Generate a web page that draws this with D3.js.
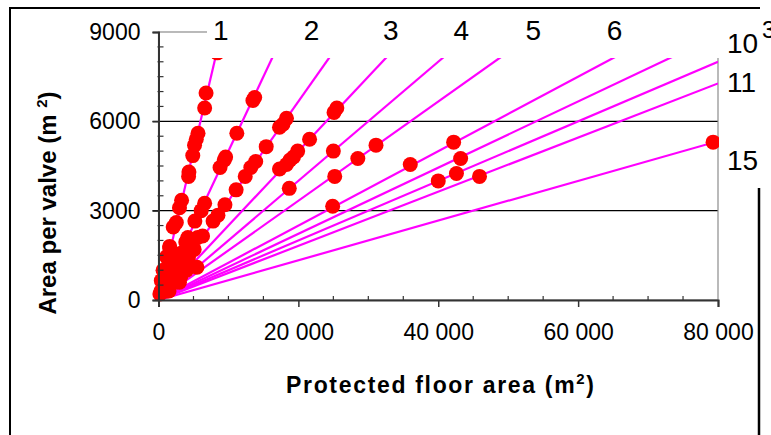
<!DOCTYPE html>
<html>
<head>
<meta charset="utf-8">
<script src="https://cdn.jsdelivr.net/npm/d3@7"></script>
<style>
  html, body { margin: 0; padding: 0; background: #fff; }
  svg { display: block; font-family: "Liberation Sans", Arial, sans-serif; }
</style>
</head>
<body>
<svg id="chart" width="771" height="435"></svg>
<script>
// ---------- data ----------
// guide lines: area per valve = floor area / n
const lineDivisors = [1, 2, 3, 4, 5, 6, 8, 9, 10, 11, 15];
// top labels and the floor area (m2) under which each is written
const topLabels = ["1", "2", "3", "4", "5", "6"];
const topLabelX = [8900, 21900, 33200, 43300, 53600, 65200];
// right labels and the area per valve (m2) beside which each is written
const rightLabels = ["10", "11", "15"];
const rightLabelY = [8620, 7310, 4690];
// measured buildings: protected floor area (m2)
const floorArea = [
  8400, 6800, 6600, 5650, 5400, 5150, 4900, 4350, 4300, 3300, 3000, 2550, 2100, 1600, 1150, 650, 400, 350, 200,
  900, 1400, 1600,
  13500, 13750, 11200, 9600, 9400, 8800, 6600, 6100, 5200, 4200, 3900, 3500, 2700, 2000, 1200, 600, 1000, 1400, 1800, 2200, 3100, 5600, 4700,
  18300, 17800, 17300, 15400, 13900, 13200, 12400, 11100, 9500, 8500, 7800, 6300, 4300, 3000, 2300, 900, 1500, 2100, 2700, 3300, 3900, 5100,
  25500, 25100, 21600, 19900, 19300, 18800, 18300, 17300, 4400, 1200, 2400, 3200, 4000,
  25000, 18700, 5500, 1500, 3000,
  31100, 28500, 25200,
  42200, 36000, 24900,
  43200,
  42600, 40000,
  45900,
  79300
];
// measured buildings: area per valve (m2)
const areaPerValve = [
  8300, 6950, 6450, 5600, 5400, 5200, 4850, 4300, 4150, 3350, 3100, 2600, 2450, 1800, 1450, 1000, 650, 300, 200,
  950, 1450, 1750,
  6700, 6800, 5600, 4800, 4700, 4450, 3250, 3000, 2650, 2100, 1950, 1600, 1300, 1000, 600, 300, 500, 700, 900, 1100, 1550, 2100, 1900,
  6100, 5900, 5800, 5150, 4650, 4450, 4150, 3700, 3200, 2850, 2650, 2150, 1450, 1000, 700, 300, 500, 700, 900, 1100, 1300, 1700,
  6450, 6300, 5400, 5000, 4800, 4700, 4550, 4400, 1100, 300, 600, 800, 1000,
  5000, 3750, 1100, 300, 600,
  5200, 4750, 4150,
  5300, 4550, 3150,
  4750,
  4250, 4000,
  4150,
  5300
];
const yTicks = [0, 3000, 6000, 9000];
const xTicks = [0, 20000, 40000, 60000, 80000];
const xTickLabels = ["0", "20 000", "40 000", "60 000", "80 000"];

// ---------- drawing ----------
const svg = d3.select("#chart");
const x = d3.scaleLinear().domain([0, 80000]).range([158.5, 718]);
const y = d3.scaleLinear().domain([0, 9000]).range([300, 32]);
const X0 = x(0), X1 = x(80000), Y0 = y(0), Y1 = y(9000);

svg.append("defs").append("clipPath").attr("id", "plotclip")
  .append("rect").attr("x", X0).attr("y", Y1).attr("width", X1 - X0).attr("height", Y0 - Y1);

// gridlines
svg.append("g").selectAll("line").data([3000, 6000]).join("line")
  .attr("x1", X0 - 6).attr("x2", X1).attr("y1", d => y(d)).attr("y2", d => y(d))
  .attr("stroke", "#000").attr("stroke-width", 1.2);

// plot border (grey)
svg.append("rect").attr("x", X0).attr("y", Y1).attr("width", X1 - X0).attr("height", Y0 - Y1)
  .attr("fill", "none").attr("stroke", "#8c8c8c").attr("stroke-width", 1.2);

// guide lines
svg.append("g").attr("clip-path", "url(#plotclip)")
  .selectAll("line").data(lineDivisors).join("line")
  .attr("x1", x(0)).attr("y1", y(0))
  .attr("x2", n => x(Math.min(80000, 9000 * n)))
  .attr("y2", n => y(Math.min(80000, 9000 * n) / n))
  .attr("stroke", "#ff00ff").attr("stroke-width", 2.2);

// points
const pts = floorArea.map((v, i) => [v, areaPerValve[i]]);
svg.append("g").selectAll("circle").data(pts).join("circle")
  .attr("cx", d => x(d[0])).attr("cy", d => y(d[1])).attr("r", 7.5)
  .attr("fill", "#ff0000");

// axes
const yAxis = d3.axisLeft(y).tickValues(yTicks).tickSize(6).tickFormat(d3.format("d"));
const gy = svg.append("g").attr("transform", `translate(${X0},0)`).call(yAxis);
gy.select(".domain").attr("stroke", "#333").attr("stroke-width", 2);
gy.selectAll(".tick line").attr("stroke", "#333").attr("stroke-width", 1.5);
gy.selectAll(".tick text").attr("font-size", 23).attr("x", -18).attr("fill", "#000");
// minor y ticks
svg.append("g").selectAll("line").data(d3.range(500, 9000, 500).filter(v => v % 3000 !== 0)).join("line")
  .attr("x1", X0 - 1).attr("x2", X0 + 5).attr("y1", d => y(d)).attr("y2", d => y(d))
  .attr("stroke", "#333").attr("stroke-width", 1.2);

const xAxis = d3.axisBottom(x).tickValues(xTicks).tickSize(7).tickFormat((d, i) => xTickLabels[i]);
const gx = svg.append("g").attr("transform", `translate(0,${Y0})`).call(xAxis);
gx.select(".domain").attr("stroke", "#333").attr("stroke-width", 2);
gx.selectAll(".tick line").attr("stroke", "#333").attr("stroke-width", 1.5);
gx.selectAll(".tick text").attr("font-size", 23).attr("y", 24).attr("fill", "#000");
// minor x ticks
svg.append("g").selectAll("line").data(d3.range(5000, 80000, 5000).filter(v => v % 20000 !== 0)).join("line")
  .attr("y1", Y0 + 1).attr("y2", Y0 - 4).attr("x1", d => x(d)).attr("x2", d => x(d))
  .attr("stroke", "#333").attr("stroke-width", 1.2);

// white label boxes covering the top and right of the plot
svg.append("rect").attr("x", 207).attr("y", 8.5).attr("width", 771 - 207).attr("height", 58 - 8.5).attr("fill", "#fff");
svg.append("rect").attr("x", X1 + 1).attr("y", 58).attr("width", 771 - X1).attr("height", 188 - 58).attr("fill", "#fff");

// outer frame
svg.append("path").attr("d", `M10,435 L10,8 L760,8`).attr("fill", "none").attr("stroke", "#000").attr("stroke-width", 2);
svg.append("line").attr("x1", 759).attr("x2", 759).attr("y1", 188).attr("y2", 435).attr("stroke", "#000").attr("stroke-width", 2.5);

// line labels
svg.append("g").selectAll("text").data(topLabels).join("text")
  .attr("x", (d, i) => x(topLabelX[i])).attr("y", 40).attr("text-anchor", "middle")
  .attr("font-size", 28).text(d => d);
svg.append("g").selectAll("text").data(rightLabels).join("text")
  .attr("x", X1 + 9).attr("y", (d, i) => y(rightLabelY[i]) + 10).attr("text-anchor", "start")
  .attr("font-size", 28).text(d => d);
svg.append("text").attr("x", 762).attr("y", 38).attr("font-size", 24).text("3");

// axis titles
svg.append("text").attr("x", 440).attr("y", 393).attr("text-anchor", "middle")
  .attr("font-size", 23).attr("font-weight", "bold")
  .attr("textLength", 308).attr("lengthAdjust", "spacing")
  .html('Protected floor area (m<tspan dy="-9" font-size="15">2</tspan><tspan dy="9">)</tspan>');
svg.append("text").attr("transform", "translate(56,203) rotate(-90)").attr("text-anchor", "middle")
  .attr("font-size", 24).attr("font-weight", "bold")
  .html('Area per valve (m <tspan dy="-9" font-size="15">2</tspan><tspan dy="9">)</tspan>');
</script>
</body>
</html>
